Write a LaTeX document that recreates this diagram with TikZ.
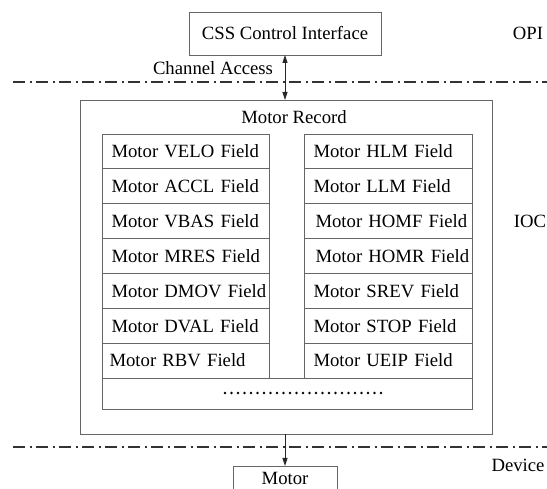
\documentclass[tikz,border=0pt]{standalone}
\usepackage{fontspec}
\setmainfont{Liberation Serif}
\usetikzlibrary{arrows.meta,positioning}

\begin{document}
\begin{tikzpicture}[
    x=1pt, y=-1pt,
    node distance=0pt,
    txt/.style={font=\fontsize{18.7}{21}\selectfont},
    box/.style={draw=black!60, line width=0.9pt, txt, inner sep=0pt, outer sep=0pt},
    fieldbox/.style={box, minimum height=34.86pt, text width=160pt, inner xsep=3.5pt, align=left,
      execute at begin node={\hspace*{6pt}\hbox\bgroup}, execute at end node={\egroup}},
    layerline/.style={black!80, line width=1.1pt, dash pattern=on 12pt off 4.5pt on 2pt off 4.5pt},
    dotline/.style={black, line width=2.8pt, line cap=round, dash pattern=on 0pt off 6.5pt},
    arrow/.style={-{Triangle[length=8pt, width=5pt]}, line width=0.8pt, black!85},
    twoarrow/.style={{Triangle[length=8pt, width=5pt]}-{Triangle[length=8pt, width=5pt]}, line width=0.8pt, black!85}
  ]
  \useasboundingbox (0,0) rectangle (547,489);

  % OPI layer
  \node[box, minimum width=192pt, minimum height=43pt] (css) at (285,33.5) {CSS Control Interface};
  \node[txt] (opi) at (528,33) {OPI};
  \node[txt] (ca) at (213,68) {Channel Access};

  % layer separators
  \coordinate (topw) at (13,82);
  \coordinate (tope) at (547,82);
  \coordinate (botw) at (13,447);
  \coordinate (bote) at (547,447);
  \draw[layerline] (topw) -- (tope);
  \draw[layerline] (botw) -- (bote);

  % IOC layer: motor record
  \node[box, minimum width=412pt, minimum height=334pt] (record) at (286,267) {};
  \node[txt] (rectitle) at (294,117) {Motor Record};
  \node[txt] (ioc) at (530,221) {IOC};

  % left column of fields
  \node[fieldbox, anchor=north west] (velo) at (102,134) {Motor VELO Field};
  \node[fieldbox, below=of velo] (accl) {Motor ACCL Field};
  \node[fieldbox, below=of accl] (vbas) {Motor VBAS Field};
  \node[fieldbox, below=of vbas] (mres) {Motor MRES Field};
  \node[fieldbox, below=of mres] (dmov) {Motor DMOV Field};
  \node[fieldbox, below=of dmov] (dval) {Motor DVAL Field};
  \node[fieldbox, below=of dval] (rbv) {\hspace*{-2pt}Motor RBV Field};

  % right column of fields
  \node[fieldbox, anchor=north west, text width=161pt] (hlm) at (304,134) {Motor HLM Field};
  \node[fieldbox, below=of hlm, text width=161pt] (llm) {Motor LLM Field};
  \node[fieldbox, below=of llm, text width=161pt] (homf) {\hspace*{2pt}Motor HOMF Field};
  \node[fieldbox, below=of homf, text width=161pt] (homr) {\hspace*{2pt}Motor HOMR Field};
  \node[fieldbox, below=of homr, text width=161pt] (srev) {Motor SREV Field};
  \node[fieldbox, below=of srev, text width=161pt] (stop) {Motor STOP Field};
  \node[fieldbox, below=of stop, text width=161pt] (ueip) {Motor UEIP Field};

  % remaining fields
  \node[box, anchor=north west, minimum width=370pt, minimum height=31pt] (more) at (rbv.south west) {};
  \coordinate (dotsw) at (225,393);
  \coordinate (dotse) at (387,393);
  \draw[dotline] (dotsw) -- (dotse);

  % device layer
  \node[txt] (dev) at (518,465) {Device};
  \node[txt, minimum width=104pt, minimum height=24pt, inner sep=0pt, outer sep=0pt] (motor) at (285,478) {Motor};
  \draw[black!60, line width=0.9pt] (motor.south west) |- (motor.north east) -- (motor.south east);

  % arrows
  \draw[twoarrow] (css.south) -- (css.south |- record.north);
  \draw[arrow] (record.south -| motor.north) -- (motor.north);

\end{tikzpicture}
\end{document}
